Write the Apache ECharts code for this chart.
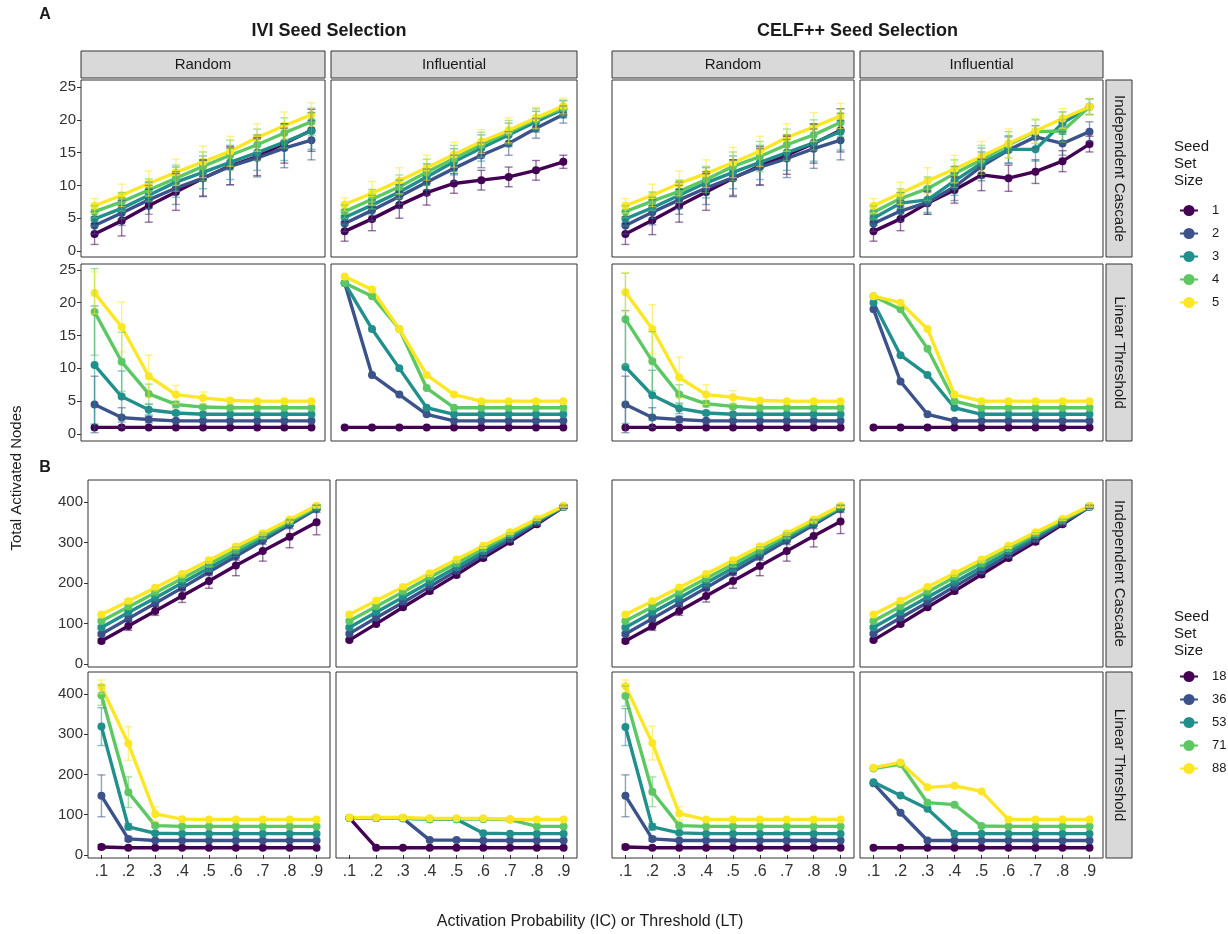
<!DOCTYPE html>
<html>
<head>
<meta charset="utf-8">
<script src="https://cdn.jsdelivr.net/npm/echarts@6/dist/echarts.min.js"></script>
<style>
html,body{margin:0;padding:0;background:#fff}
#chart{width:1228px;height:934px}
</style>
</head>
<body>
<div id="chart"></div>
<script>
// ---- axis labels, groups ----
const probLabels = ['.1', '.2', '.3', '.4', '.5', '.6', '.7', '.8', '.9'];
const seedSizesSmall = ['1', '2', '3', '4', '5'];
const seedSizesLarge = ['18', '36', '53', '71', '88'];
const smallTicks = [0, 5, 10, 15, 20, 25];
const largeTicks = [0, 100, 200, 300, 400];
const colLabels = ['Random', 'Influential', 'Random', 'Influential'];
const rowLabels = ['Independent Cascade', 'Linear Threshold', 'Independent Cascade', 'Linear Threshold'];
const sectionTitles = ['IVI Seed Selection', 'CELF++ Seed Selection'];

// ---- A: small seed sets (1-5), mean and sd per seed size ----
const iviRandIC = [
  [2.6, 4.6, 6.9, 9.0, 11.1, 13.0, 14.4, 16.4, 18.4],
  [3.9, 5.8, 7.8, 9.6, 11.1, 12.9, 14.2, 15.7, 16.9],
  [4.9, 6.5, 8.5, 10.5, 12.0, 13.5, 15.0, 16.6, 18.3],
  [6.0, 7.5, 9.3, 11.1, 12.9, 14.6, 16.2, 18.0, 19.7],
  [6.9, 8.5, 10.3, 12.0, 13.6, 15.2, 17.3, 19.1, 20.8]
];
const iviRandICsd = [
  [1.6, 2.3, 2.5, 2.8, 2.8, 2.9, 2.9, 3.0, 3.2],
  [1.3, 1.9, 2.2, 2.5, 2.7, 2.8, 2.9, 3.0, 3.0],
  [1.1, 1.6, 2.0, 2.3, 2.5, 2.6, 2.7, 2.8, 2.8],
  [0.9, 1.4, 1.7, 2.0, 2.2, 2.3, 2.4, 2.3, 2.1],
  [1.1, 1.7, 1.9, 2.0, 2.4, 2.3, 2.1, 2.1, 1.8]
];
const iviInflIC = [
  [3.0, 4.9, 7.0, 8.9, 10.3, 10.8, 11.3, 12.3, 13.6],
  [4.2, 6.2, 8.3, 10.5, 12.6, 14.6, 16.4, 18.7, 20.8],
  [5.1, 7.0, 9.0, 11.3, 13.6, 15.7, 17.7, 19.7, 21.6],
  [6.0, 7.9, 9.8, 12.0, 14.1, 16.2, 18.1, 20.1, 21.8],
  [7.1, 8.8, 10.7, 12.7, 14.7, 16.7, 18.4, 20.3, 22.1]
];
const iviInflICsd = [
  [1.5, 1.8, 2.0, 1.9, 1.5, 1.5, 1.5, 1.5, 1.0],
  [1.2, 1.6, 1.8, 2.0, 2.0, 1.9, 1.8, 1.5, 1.3],
  [1.1, 1.5, 1.8, 2.0, 2.0, 2.0, 1.8, 1.6, 1.3],
  [1.0, 1.5, 1.8, 2.0, 2.0, 1.9, 1.8, 1.6, 1.2],
  [1.0, 1.8, 2.0, 1.9, 1.9, 1.8, 1.9, 1.6, 1.2]
];
const celfRandIC = [
  [2.6, 4.7, 6.9, 9.0, 11.1, 13.0, 14.6, 16.4, 18.4],
  [3.9, 5.9, 7.8, 9.6, 11.2, 12.8, 14.1, 15.6, 16.9],
  [4.9, 6.6, 8.5, 10.4, 12.0, 13.5, 15.0, 16.5, 18.2],
  [6.0, 7.6, 9.1, 10.9, 12.9, 14.4, 16.2, 17.7, 19.6],
  [6.9, 8.5, 10.3, 11.8, 13.5, 15.2, 17.3, 18.9, 20.6]
];
const celfRandICsd = [
  [1.6, 2.2, 2.5, 2.8, 2.8, 2.9, 2.9, 3.0, 3.3],
  [1.3, 1.9, 2.2, 2.5, 2.7, 2.8, 2.9, 3.0, 3.0],
  [1.1, 1.6, 2.0, 2.3, 2.5, 2.6, 2.7, 2.8, 2.8],
  [0.9, 1.4, 1.7, 2.0, 2.2, 2.3, 2.4, 2.3, 2.1],
  [1.1, 1.7, 1.9, 2.1, 2.3, 2.3, 2.1, 2.2, 1.9]
];
const celfInflIC = [
  [3.0, 4.9, 7.3, 9.3, 11.6, 11.1, 12.1, 13.7, 16.3],
  [4.2, 6.1, 7.4, 9.8, 12.9, 15.4, 17.4, 16.4, 18.2],
  [5.0, 7.3, 7.8, 10.7, 13.4, 15.5, 15.5, 19.5, 22.0],
  [5.9, 8.0, 9.5, 11.8, 13.9, 16.2, 18.2, 18.3, 22.0],
  [6.9, 8.8, 10.7, 12.5, 14.4, 16.4, 18.3, 20.2, 22.0]
];
const celfInflICsd = [
  [1.5, 1.8, 1.7, 2.0, 2.4, 2.0, 1.8, 1.6, 1.2],
  [1.2, 1.6, 1.8, 2.1, 2.2, 2.0, 1.7, 1.8, 1.5],
  [1.1, 1.6, 1.9, 2.2, 2.3, 2.1, 1.8, 1.7, 1.2],
  [1.0, 1.5, 1.8, 2.1, 2.2, 2.0, 1.8, 1.7, 1.2],
  [1.1, 1.7, 2.0, 2.1, 2.3, 2.2, 1.9, 1.5, 1.3]
];
const iviRandLT = [
  [1, 1, 1, 1, 1, 1, 1, 1, 1],
  [4.5, 2.5, 2.2, 2.0, 2.0, 2.0, 2.0, 2.0, 2.0],
  [10.5, 5.7, 3.7, 3.2, 3.0, 3.0, 3.0, 3.0, 3.0],
  [18.6, 11.0, 6.1, 4.5, 4.1, 4.0, 4.0, 4.0, 4.0],
  [21.5, 16.3, 8.8, 6.0, 5.5, 5.1, 5.0, 5.0, 5.0]
];
const iviRandLTsd = [
  [0, 0, 0, 0, 0, 0, 0, 0, 0],
  [4.3, 1.5, 0.5, 0.2, 0, 0, 0, 0, 0],
  [9.0, 3.9, 0.8, 0.3, 0, 0, 0, 0, 0],
  [6.6, 4.5, 1.5, 0.5, 0.3, 0, 0, 0, 0],
  [3.2, 3.8, 3.2, 1.4, 0.9, 0.3, 0, 0, 0]
];
const iviInflLT = [
  [1, 1, 1, 1, 1, 1, 1, 1, 1],
  [23, 9, 6, 3, 2, 2, 2, 2, 2],
  [23, 16, 10, 4, 3, 3, 3, 3, 3],
  [23, 21, 16, 7, 4, 4, 4, 4, 4],
  [24, 22, 16, 9, 6, 5, 5, 5, 5]
];
const celfRandLT = [
  [1, 1, 1, 1, 1, 1, 1, 1, 1],
  [4.5, 2.5, 2.2, 2.0, 2.0, 2.0, 2.0, 2.0, 2.0],
  [10.2, 5.9, 3.9, 3.2, 3.0, 3.0, 3.0, 3.0, 3.0],
  [17.5, 11.1, 6.0, 4.6, 4.2, 4.0, 4.0, 4.0, 4.0],
  [21.6, 16.0, 8.6, 6.0, 5.6, 5.1, 5.0, 5.0, 5.0]
];
const celfRandLTsd = [
  [0, 0, 0, 0, 0, 0, 0, 0, 0],
  [4.3, 1.5, 0.5, 0.2, 0, 0, 0, 0, 0],
  [8.6, 3.8, 0.8, 0.3, 0, 0, 0, 0, 0],
  [7.0, 4.5, 1.5, 0.5, 0.3, 0, 0, 0, 0],
  [3.0, 3.7, 3.1, 1.5, 1.0, 0.3, 0, 0, 0]
];
const celfInflLT = [
  [1, 1, 1, 1, 1, 1, 1, 1, 1],
  [19, 8, 3, 2, 2, 2, 2, 2, 2],
  [20, 12, 9, 4, 3, 3, 3, 3, 3],
  [21, 19, 13, 5, 4, 4, 4, 4, 4],
  [21, 20, 16, 6, 5, 5, 5, 5, 5]
];

// ---- B: large seed sets (18-88) ----
const iviRandICL = [
  [57, 94, 131, 168, 205, 243, 279, 314, 350],
  [74, 112, 150, 188, 227, 266, 305, 344, 383],
  [90, 127, 163, 200, 237, 274, 311, 348, 386],
  [106, 141, 176, 211, 246, 282, 317, 352, 388],
  [122, 155, 188, 222, 256, 290, 323, 357, 391]
];
const iviRandICLsd = [
  [5, 11, 11, 16, 18, 25, 25, 27, 31],
  [4, 6, 7, 8, 9, 10, 10, 10, 9],
  [4, 5, 6, 7, 8, 8, 8, 8, 7],
  [3, 5, 5, 6, 6, 7, 7, 6, 5],
  [3, 4, 4, 5, 5, 5, 5, 4, 4]
];
const iviInflICL = [
  [59, 99, 140, 180, 220, 262, 302, 345, 388],
  [75, 114, 152, 191, 230, 269, 308, 348, 388],
  [90, 128, 165, 202, 239, 277, 314, 352, 389],
  [106, 142, 178, 214, 249, 285, 320, 355, 389],
  [122, 156, 190, 224, 258, 292, 325, 358, 390]
];
const iviInflICLsd = [
  [3, 4, 5, 6, 6, 6, 6, 5, 4],
  [3, 4, 5, 5, 5, 5, 5, 4, 3],
  [3, 4, 5, 5, 5, 5, 4, 4, 3],
  [3, 4, 4, 5, 5, 5, 4, 4, 3],
  [3, 4, 4, 4, 4, 4, 4, 3, 3]
];
const celfRandICL = [
  [57, 93, 131, 168, 205, 242, 279, 316, 352],
  [74, 112, 150, 188, 227, 266, 305, 344, 383],
  [90, 127, 163, 200, 237, 274, 311, 348, 386],
  [106, 141, 176, 211, 246, 282, 317, 352, 388],
  [122, 155, 189, 222, 256, 290, 323, 357, 391]
];
const celfRandICLsd = [
  [5, 10, 11, 15, 18, 24, 25, 27, 30],
  [4, 6, 7, 8, 9, 10, 10, 10, 9],
  [4, 5, 6, 7, 8, 8, 8, 8, 7],
  [3, 5, 5, 6, 6, 7, 7, 6, 5],
  [3, 4, 4, 5, 5, 5, 5, 4, 4]
];
const celfInflICL = [
  [59, 99, 140, 180, 221, 262, 302, 345, 388],
  [75, 114, 152, 191, 230, 269, 308, 348, 388],
  [90, 128, 165, 202, 239, 277, 314, 352, 389],
  [106, 142, 178, 214, 249, 285, 320, 355, 389],
  [122, 156, 190, 224, 258, 292, 325, 358, 390]
];
const celfInflICLsd = [
  [3, 4, 5, 6, 6, 6, 6, 5, 4],
  [3, 4, 5, 5, 5, 5, 5, 4, 3],
  [3, 4, 5, 5, 5, 5, 4, 4, 3],
  [3, 4, 4, 5, 5, 5, 4, 4, 3],
  [3, 4, 4, 4, 4, 4, 4, 3, 3]
];
const iviRandLTL = [
  [20, 18, 18, 18, 18, 18, 18, 18, 18],
  [147, 40, 36, 36, 36, 36, 36, 36, 36],
  [319, 70, 54, 53, 53, 53, 53, 53, 53],
  [397, 156, 73, 71, 71, 71, 71, 71, 71],
  [418, 277, 102, 89, 88, 88, 88, 88, 88]
];
const iviRandLTLsd = [
  [6, 0, 0, 0, 0, 0, 0, 0, 0],
  [52, 6, 0, 0, 0, 0, 0, 0, 0],
  [47, 8, 3, 0, 0, 0, 0, 0, 0],
  [25, 38, 5, 0, 0, 0, 0, 0, 0],
  [17, 42, 18, 2, 0, 0, 0, 0, 0]
];
const iviInflLTL = [
  [92, 18, 18, 18, 18, 18, 18, 18, 18],
  [92, 92, 91, 37, 37, 36, 36, 36, 36],
  [92, 92, 91, 89, 89, 54, 53, 53, 53],
  [92, 92, 91, 89, 89, 89, 88, 71, 71],
  [93, 93, 93, 91, 91, 91, 89, 88, 88]
];
const celfRandLTL = [
  [20, 18, 18, 18, 18, 18, 18, 18, 18],
  [147, 40, 36, 36, 36, 36, 36, 36, 36],
  [318, 70, 55, 53, 53, 53, 53, 53, 53],
  [395, 157, 73, 71, 71, 71, 71, 71, 71],
  [420, 278, 103, 88, 88, 88, 88, 88, 88]
];
const celfRandLTLsd = [
  [6, 0, 0, 0, 0, 0, 0, 0, 0],
  [52, 6, 0, 0, 0, 0, 0, 0, 0],
  [46, 8, 3, 0, 0, 0, 0, 0, 0],
  [25, 37, 5, 0, 0, 0, 0, 0, 0],
  [15, 42, 17, 2, 0, 0, 0, 0, 0]
];
const celfInflLTL = [
  [18, 18, 18, 18, 18, 18, 18, 18, 18],
  [178, 105, 36, 36, 36, 36, 36, 36, 36],
  [181, 148, 115, 53, 53, 53, 53, 53, 53],
  [215, 226, 130, 125, 72, 71, 71, 71, 71],
  [217, 230, 168, 172, 158, 88, 88, 88, 88]
];

// ---- styling ----
const viridis = ['#440154', '#3B528B', '#21908C', '#5DC863', '#FDE725'];
const FONT = '"Liberation Sans", Arial, sans-serif';
const INK = '#1a1a1a';

// panel rectangles (px): rows, and column spans for the upper/lower blocks
const rowSpans = [[80, 257], [264, 441], [480, 667], [672, 858]];
const colSpansA = [[81, 325], [331, 577], [612, 854], [860, 1103]];
const colSpansB = [[88, 330], [336, 577], [612, 854], [860, 1103]];
const rowRanges = [[-0.91, 26.07], [-1.07, 25.9], [-7.4, 454.3], [-7.5, 454.7]];

const panels = [
  { row: 0, col: 0, mean: iviRandIC, sd: iviRandICsd },
  { row: 0, col: 1, mean: iviInflIC, sd: iviInflICsd },
  { row: 0, col: 2, mean: celfRandIC, sd: celfRandICsd },
  { row: 0, col: 3, mean: celfInflIC, sd: celfInflICsd },
  { row: 1, col: 0, mean: iviRandLT, sd: iviRandLTsd },
  { row: 1, col: 1, mean: iviInflLT, sd: null },
  { row: 1, col: 2, mean: celfRandLT, sd: celfRandLTsd },
  { row: 1, col: 3, mean: celfInflLT, sd: null },
  { row: 2, col: 0, mean: iviRandICL, sd: iviRandICLsd },
  { row: 2, col: 1, mean: iviInflICL, sd: iviInflICLsd },
  { row: 2, col: 2, mean: celfRandICL, sd: celfRandICLsd },
  { row: 2, col: 3, mean: celfInflICL, sd: celfInflICLsd },
  { row: 3, col: 0, mean: iviRandLTL, sd: iviRandLTLsd },
  { row: 3, col: 1, mean: iviInflLTL, sd: null },
  { row: 3, col: 2, mean: celfRandLTL, sd: celfRandLTLsd },
  { row: 3, col: 3, mean: celfInflLTL, sd: null }
];

const grids = [], xAxes = [], yAxes = [], series = [];

function errorBarRenderer(color) {
  return function (params, api) {
    const i = api.value(0);
    const top = api.coord([i, api.value(2)]);
    const bot = api.coord([i, api.value(1)]);
    const w = 4;
    const st = { stroke: color, lineWidth: 1.4, opacity: 0.55 };
    return {
      type: 'group',
      children: [
        { type: 'line', shape: { x1: top[0], y1: top[1], x2: bot[0], y2: bot[1] }, style: st },
        { type: 'line', shape: { x1: top[0] - w, y1: top[1], x2: top[0] + w, y2: top[1] }, style: st },
        { type: 'line', shape: { x1: bot[0] - w, y1: bot[1], x2: bot[0] + w, y2: bot[1] }, style: st }
      ]
    };
  };
}

panels.forEach((p, idx) => {
  const cols = p.row < 2 ? colSpansA : colSpansB;
  const [x0, x1] = cols[p.col];
  const [y0, y1] = rowSpans[p.row];
  grids.push({
    left: x0, top: y0, width: x1 - x0, height: y1 - y0,
    show: true, borderColor: '#333', borderWidth: 1, backgroundColor: '#fff'
  });
  const isBottom = p.row === 3;
  xAxes.push({
    type: 'category', gridIndex: idx, data: probLabels, boundaryGap: true,
    axisLine: { show: false },
    axisTick: { show: isBottom, alignWithLabel: true, length: 4, lineStyle: { color: '#333' } },
    axisLabel: { show: isBottom, fontFamily: FONT, fontSize: 16, color: '#333', margin: 6 },
    splitLine: { show: false }
  });
  const ticks = p.row < 2 ? smallTicks : largeTicks;
  const showY = p.col === 0;
  yAxes.push({
    type: 'value', gridIndex: idx,
    min: rowRanges[p.row][0], max: rowRanges[p.row][1],
    axisLine: { show: false },
    axisTick: { show: showY, length: 4, customValues: ticks, lineStyle: { color: '#333' } },
    axisLabel: { show: showY, customValues: ticks, fontFamily: FONT, fontSize: 15, color: '#333', margin: 5 },
    splitLine: { show: false }
  });
  const names = p.row < 2 ? seedSizesSmall : seedSizesLarge;
  p.mean.forEach((vals, s) => {
    series.push({
      name: names[s], type: 'line', xAxisIndex: idx, yAxisIndex: idx,
      data: vals, symbol: 'circle', symbolSize: 8, showSymbol: true,
      lineStyle: { width: 3.4, color: viridis[s] },
      itemStyle: { color: viridis[s] },
      z: 3, animation: false, silent: true
    });
  });
  if (p.sd) {
    p.mean.forEach((vals, s) => {
      const bars = [];
      vals.forEach((v, j) => {
        const e = p.sd[s][j];
        if (e > 0) bars.push([j, v - e, v + e]);
      });
      series.push({
        name: 'sd ' + names[s], type: 'custom', xAxisIndex: idx, yAxisIndex: idx,
        renderItem: errorBarRenderer(viridis[s]), data: bars,
        encode: { x: 0, y: [1, 2] }, clip: true, z: 4, silent: true, animation: false
      });
    });
  }
});

// ---- strips, titles and labels ----
const g = [];
function txt(x, y, text, size, opts) {
  opts = opts || {};
  g.push({
    type: 'text', x: x, y: y, rotation: opts.rotation || 0, silent: true, z: 100,
    style: {
      text: text, fill: opts.fill || INK,
      font: (opts.bold ? 'bold ' : '') + size + 'px ' + FONT,
      align: opts.align || 'center', verticalAlign: 'middle',
      textAlign: opts.align || 'center', textVerticalAlign: 'middle'
    }
  });
}
colSpansA.forEach((c, i) => {
  g.push({ type: 'rect', silent: true, z: 90, shape: { x: c[0], y: 51, width: c[1] - c[0], height: 27 },
    style: { fill: '#D9D9D9', stroke: '#333', lineWidth: 1 } });
  txt((c[0] + c[1]) / 2, 65, colLabels[i], 15);
});
rowSpans.forEach((r, i) => {
  g.push({ type: 'rect', silent: true, z: 90, shape: { x: 1106, y: r[0], width: 26, height: r[1] - r[0] },
    style: { fill: '#D9D9D9', stroke: '#333', lineWidth: 1 } });
  txt(1119, (r[0] + r[1]) / 2, rowLabels[i], 15, { rotation: -Math.PI / 2 });
});
txt((colSpansA[0][0] + colSpansA[1][1]) / 2, 31, sectionTitles[0], 18, { bold: true });
txt((colSpansA[2][0] + colSpansA[3][1]) / 2, 31, sectionTitles[1], 18, { bold: true });
txt(45, 15, 'A', 16, { bold: true });
txt(45, 468, 'B', 16, { bold: true });
txt(17, 478, 'Total Activated Nodes', 15, { rotation: Math.PI / 2 });
txt(590, 922, 'Activation Probability (IC) or Threshold (LT)', 16);
['Seed', 'Set', 'Size'].forEach((w, i) => {
  txt(1174, 147 + i * 17, w, 15, { align: 'left' });
  txt(1174, 617 + i * 17, w, 15, { align: 'left' });
});

const legendCommon = {
  orient: 'vertical', left: 1179, padding: 0, itemWidth: 18, itemHeight: 14, itemGap: 10,
  selectedMode: false,
  textStyle: { fontFamily: FONT, fontSize: 13, color: INK, padding: [0, 0, 0, 9] }
};

const chart = echarts.init(document.getElementById('chart'), null, { renderer: 'canvas' });
chart.setOption({
  backgroundColor: '#fff',
  animation: false,
  legend: [
    Object.assign({ top: 204, data: seedSizesSmall }, legendCommon),
    Object.assign({ top: 670, data: seedSizesLarge }, legendCommon)
  ],
  grid: grids,
  xAxis: xAxes,
  yAxis: yAxes,
  series: series,
  graphic: { elements: g }
});
</script>
</body>
</html>
